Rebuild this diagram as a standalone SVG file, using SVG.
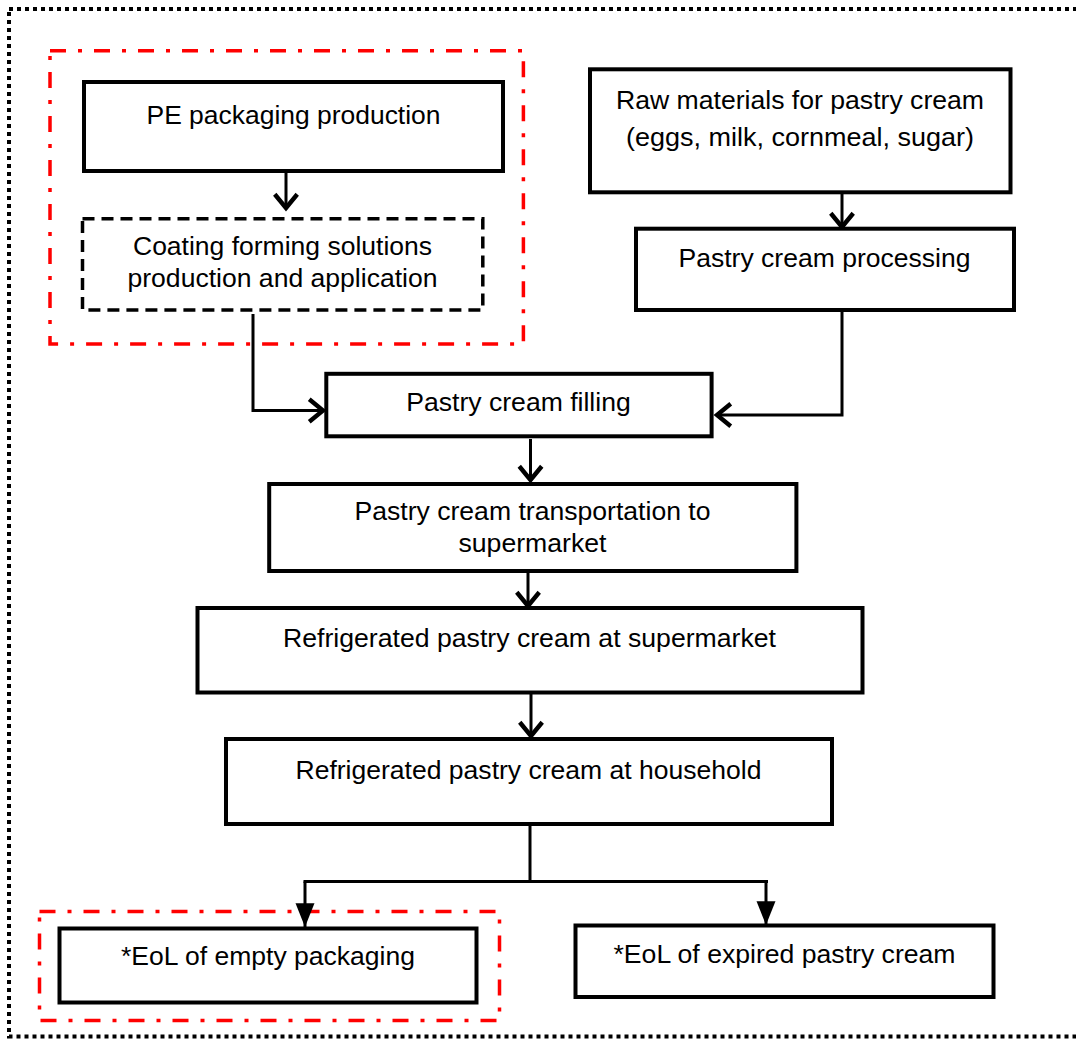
<svg xmlns="http://www.w3.org/2000/svg" width="1076" height="1039" viewBox="0 0 1076 1039">
<style>
  .box { fill: #fff; stroke: #000; stroke-width: 4; }
  .dbox { fill: #fff; stroke: #000; stroke-width: 3.5; stroke-dasharray: 12 7; }
  .red { fill: none; stroke: #ff0000; stroke-width: 3.5; stroke-dasharray: 16 12 4 12; }
  .outer { fill: none; stroke: #000; stroke-width: 4; stroke-dasharray: 4 4; }
  .t { font-family: "Liberation Sans", Arial, sans-serif; font-size: 26.5px; fill: #000; text-anchor: middle; }
  .c { fill: none; stroke: #000; stroke-width: 3; }
</style>
<defs>
  <marker id="chev" markerUnits="userSpaceOnUse" markerWidth="30" markerHeight="30" viewBox="-16 -12 20 24" refX="0" refY="0" orient="auto">
    <path d="M -11 -9 L 0 0 L -11 9" fill="none" stroke="#000" stroke-width="3.5"/>
  </marker>
  <marker id="tri" markerUnits="userSpaceOnUse" markerWidth="30" markerHeight="30" viewBox="-17 -8 19 16" refX="0" refY="0" orient="auto">
    <path d="M -15 -6 L 0 0 L -15 6 Z" fill="#000"/>
  </marker>
</defs>
<rect width="1076" height="1039" fill="#fff"/>
<rect class="outer" x="9" y="9" width="1080" height="1027.5"/>
<rect class="red" x="50" y="50.7" width="473.4" height="293.3"/>
<rect class="red" x="39.5" y="911.5" width="460" height="109"/>

<g id="connectors">
  <line class="c" x1="286" y1="172" x2="286" y2="208" marker-end="url(#chev)"/>
  <line class="c" x1="842" y1="192" x2="842" y2="227" marker-end="url(#chev)"/>
  <polyline class="c" points="253,314 253,410.5 323,410.5" marker-end="url(#chev)"/>
  <polyline class="c" points="842,310.5 842,415 717,415" marker-end="url(#chev)"/>
  <line class="c" x1="530.5" y1="439" x2="530.5" y2="480" marker-end="url(#chev)"/>
  <line class="c" x1="528" y1="571" x2="528" y2="606" marker-end="url(#chev)"/>
  <line class="c" x1="531" y1="693" x2="531" y2="736" marker-end="url(#chev)"/>
  <line class="c" x1="530" y1="824" x2="530" y2="880"/>
  <line class="c" x1="303.5" y1="881.5" x2="768" y2="881.5" stroke-width="4"/>
  <line class="c" x1="305" y1="881.5" x2="305" y2="927" marker-end="url(#tri)"/>
  <line class="c" x1="766" y1="881.5" x2="766" y2="925" marker-end="url(#tri)"/>
</g>

<g id="pe">
  <rect class="box" x="84" y="82" width="419" height="89"/>
  <text class="t" x="293.5" y="124" textLength="294" lengthAdjust="spacingAndGlyphs">PE packaging production</text>
</g>
<g id="coating">
  <rect class="dbox" x="82.5" y="218.7" width="400.3" height="91.3"/>
  <text class="t" x="282.5" y="255" textLength="299" lengthAdjust="spacingAndGlyphs">Coating forming solutions</text>
  <text class="t" x="282.5" y="287.3" textLength="310" lengthAdjust="spacingAndGlyphs">production and application</text>
</g>
<g id="raw">
  <rect class="box" x="590" y="69.3" width="420.5" height="123"/>
  <text class="t" x="800" y="109" textLength="368" lengthAdjust="spacingAndGlyphs">Raw materials for pastry cream</text>
  <text class="t" x="800" y="145.7" textLength="348" lengthAdjust="spacingAndGlyphs">(eggs, milk, cornmeal, sugar)</text>
</g>
<g id="processing">
  <rect class="box" x="636" y="228.7" width="378" height="81.3"/>
  <text class="t" x="824.5" y="266.7" textLength="292" lengthAdjust="spacingAndGlyphs">Pastry cream processing</text>
</g>
<g id="filling">
  <rect class="box" x="326.3" y="373.8" width="385.3" height="62.5"/>
  <text class="t" x="518.5" y="411" textLength="224.5" lengthAdjust="spacingAndGlyphs">Pastry cream filling</text>
</g>
<g id="transport">
  <rect class="box" x="269.2" y="484" width="527.2" height="87"/>
  <text class="t" x="532.5" y="519.5" textLength="356" lengthAdjust="spacingAndGlyphs">Pastry cream transportation to</text>
  <text class="t" x="532.5" y="552" textLength="148" lengthAdjust="spacingAndGlyphs">supermarket</text>
</g>
<g id="supermarket">
  <rect class="box" x="197.5" y="608" width="665" height="84.5"/>
  <text class="t" x="529.5" y="647" textLength="493" lengthAdjust="spacingAndGlyphs">Refrigerated pastry cream at supermarket</text>
</g>
<g id="household">
  <rect class="box" x="226" y="739" width="606" height="85"/>
  <text class="t" x="528.5" y="779" textLength="466" lengthAdjust="spacingAndGlyphs">Refrigerated pastry cream at household</text>
</g>
<g id="eol-packaging">
  <rect class="box" x="59.5" y="928.5" width="417" height="74"/>
  <text class="t" x="268" y="964.5" textLength="294" lengthAdjust="spacingAndGlyphs">*EoL of empty packaging</text>
</g>
<g id="eol-cream">
  <rect class="box" x="575.5" y="925.5" width="418" height="71.5"/>
  <text class="t" x="784.5" y="963" textLength="342" lengthAdjust="spacingAndGlyphs">*EoL of expired pastry cream</text>
</g>
</svg>
